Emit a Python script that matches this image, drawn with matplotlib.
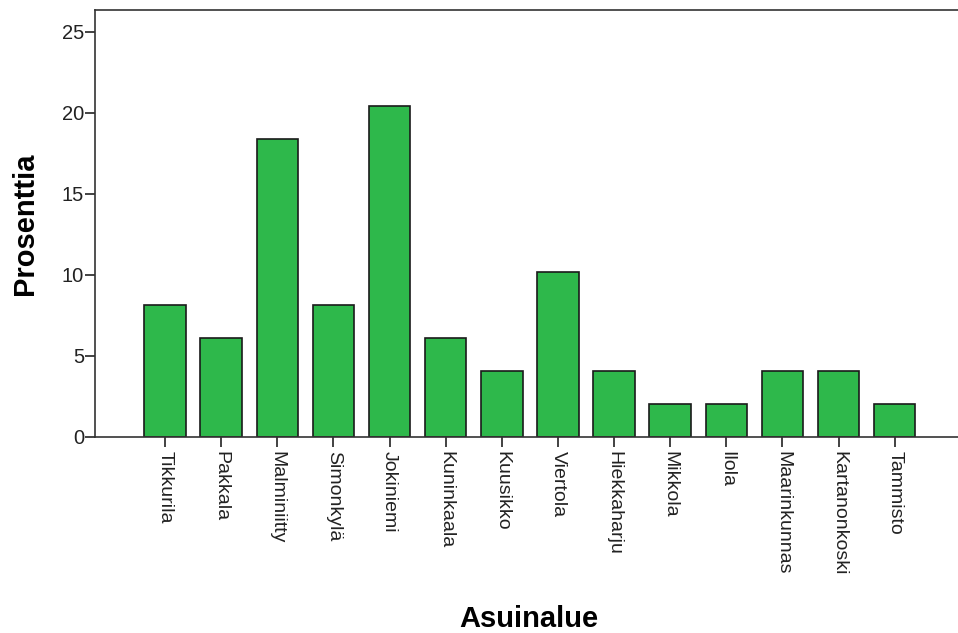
import matplotlib.pyplot as plt

alueet = ['Tikkurila', 'Pakkala', 'Malminiitty', 'Simonkylä', 'Jokiniemi',
          'Kuninkaala', 'Kuusikko', 'Viertola', 'Hiekkaharju', 'Mikkola',
          'Ilola', 'Maarinkunnas', 'Kartanonkoski', 'Tammisto']
prosentit = [8.16, 6.12, 18.37, 8.16, 20.41, 6.12, 4.08, 10.20, 4.08, 2.04,
             2.04, 4.08, 4.08, 2.04]
y_ticks = [0, 5, 10, 15, 20, 25]

plt.rcParams['font.family'] = ['Liberation Sans', 'DejaVu Sans']

fig = plt.figure(figsize=(9.58, 6.33), dpi=100)
ax = fig.add_axes([95 / 958, 1 - 437 / 633, 1 - 95 / 958 + 0.01, 427 / 633])

x = list(range(len(alueet)))
ax.bar(x, prosentit, width=0.74, color='#2eb84b', edgecolor='#1a1a1a', linewidth=1.2)

ax.set_xlim(-1.25, 14.3)
ax.set_ylim(0, 26.35)
ax.set_yticks(y_ticks)
ax.set_xticks(x)
ax.set_xticklabels(alueet, rotation=270, ha='center', va='top', fontsize=14)
ax.tick_params(axis='y', labelsize=14.5, length=7, width=1.2, colors='#222222', pad=1)
ax.tick_params(axis='x', length=7, width=1.2, colors='#222222', pad=3)

ax.spines['right'].set_visible(False)
for s in ['top', 'left', 'bottom']:
    ax.spines[s].set_linewidth(1.2)
    ax.spines[s].set_color('#333333')

ax.set_ylabel('Prosenttia', fontsize=21, fontweight='bold', labelpad=16)
ax.set_xlabel('Asuinalue', fontsize=21, fontweight='bold', va='center')
# x label sits near the bottom edge, as in the original
ax.xaxis.set_label_coords((529 - 95) / (958 - 95 + 9.58), ((633 - 619) / 633 - (1 - 437 / 633)) / (427 / 633))

fig.savefig('out.png', dpi=100)
